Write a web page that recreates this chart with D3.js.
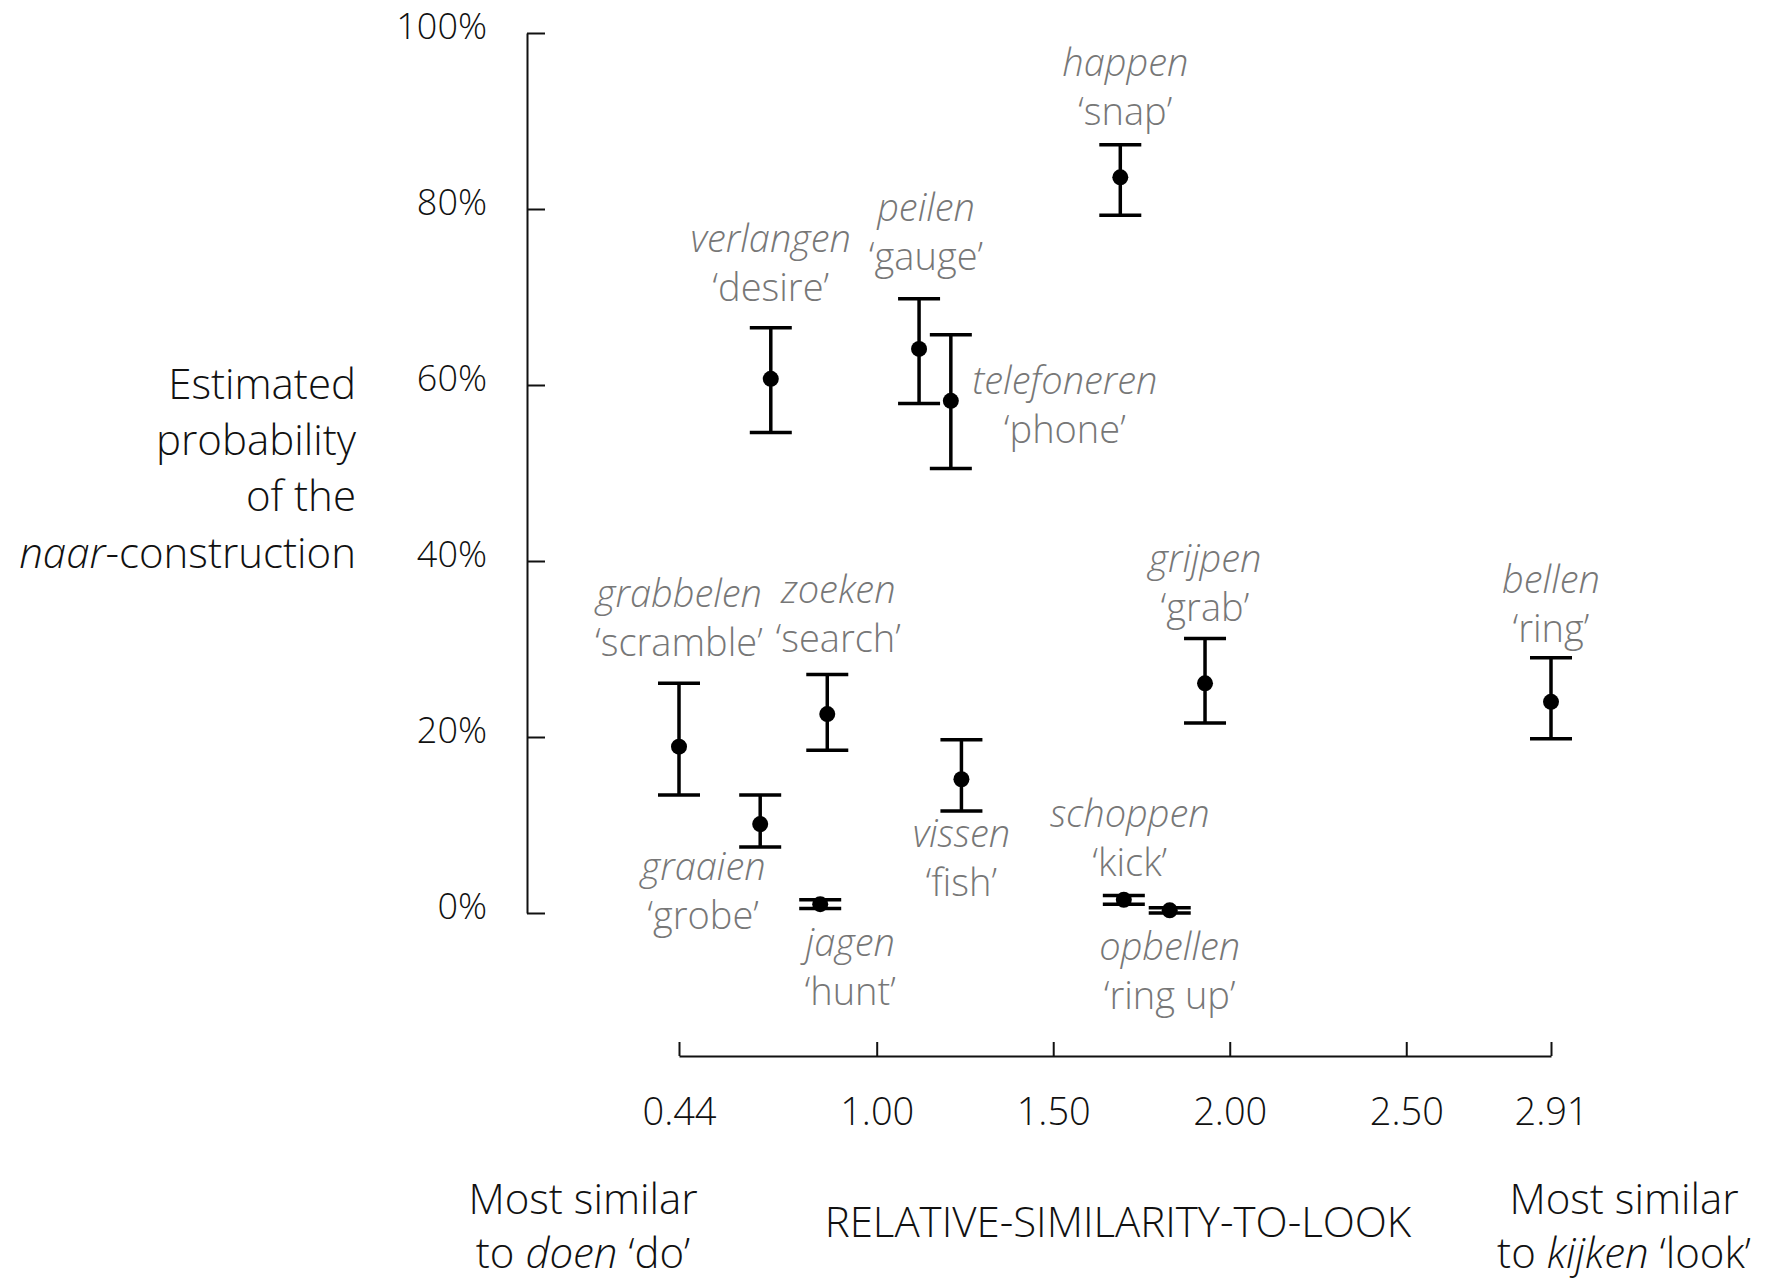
<!DOCTYPE html>
<html lang="en">
<head>
<meta charset="utf-8">
<title>Naar-construction by relative similarity to look</title>
<script src="https://d3js.org/d3.v7.min.js"></script>
<style>
  body { margin: 0; background: #fff; }
  text { font-family: "Open Sans", "Noto Sans", sans-serif; font-weight: 300; }
</style>
</head>
<body>
<div id="chart"></div>
<script>
// verbs, glosses and values
var verbs   = ["grabbelen", "graaien", "zoeken", "jagen", "verlangen", "peilen", "telefoneren",
               "vissen", "happen", "schoppen", "opbellen", "grijpen", "bellen"]
var glosses = ["scramble", "grobe", "search", "hunt", "desire", "gauge", "phone",
               "fish", "snap", "kick", "ring up", "grab", "ring"]
var similarity = [0.44, 0.67, 0.86, 0.84, 0.70, 1.12, 1.21, 1.24, 1.69, 1.70, 1.83, 1.93, 2.91]
var estimate   = [0.189, 0.101, 0.226, 0.010, 0.607, 0.641, 0.582, 0.152, 0.836, 0.015, 0.003, 0.261, 0.240]
var lower      = [0.134, 0.075, 0.185, 0.005, 0.546, 0.579, 0.505, 0.116, 0.793, 0.010, 0.000, 0.216, 0.198]
var upper      = [0.261, 0.134, 0.271, 0.015, 0.665, 0.698, 0.657, 0.197, 0.873, 0.020, 0.006, 0.312, 0.290]
var xTicks = [0.44, 1.00, 1.50, 2.00, 2.50, 2.91]
var yTicks = [0, 0.2, 0.4, 0.6, 0.8, 1.0]

// where each label sits relative to its point (px)
var labelOffsets = [[0,-153], [-57,43], [11,-124], [30,39], [0,-140], [7,-141], [114,-20],
                    [0,55], [5,-114], [6,-86], [0,37], [0,-124], [0,-122]]

var width = 1765, height = 1282

var svg = d3.select("#chart").append("svg")
    .attr("width", width)
    .attr("height", height)

var x = d3.scaleLinear().domain([0.44, 2.91]).range([679, 1551])
var y = d3.scaleLinear().domain([0, 1]).range([913, 33])

// y axis
var yAxis = svg.append("g")
    .attr("transform", "translate(527,0)")
    .call(d3.axisLeft(y).tickValues(yTicks).tickFormat(d3.format(".0%"))
      .tickSizeInner(-18).tickSizeOuter(0).tickPadding(40))
yAxis.select(".domain").attr("stroke", "#111").attr("stroke-width", 2)
yAxis.selectAll(".tick line").attr("stroke", "#111").attr("stroke-width", 2)
yAxis.selectAll(".tick text")
    .attr("fill", "#111")
    .style("font-size", "36px")
    .attr("y", -6)

// x axis
var xAxis = svg.append("g")
    .attr("transform", "translate(0,1056)")
    .call(d3.axisBottom(x).tickValues(xTicks).tickFormat(d3.format(".2f"))
      .tickSizeInner(-14).tickSizeOuter(0))
xAxis.select(".domain").attr("stroke", "#111").attr("stroke-width", 2)
xAxis.selectAll(".tick line").attr("stroke", "#111").attr("stroke-width", 2)
xAxis.selectAll(".tick text")
    .attr("fill", "#111")
    .style("font-size", "38px")
    .attr("y", 69).attr("dy", 0)

// axis titles
var yTitle = svg.append("text")
    .attr("text-anchor", "end")
    .attr("fill", "#111")
    .style("font-size", "42px")
yTitle.append("tspan").attr("x", 356).attr("y", 399).text("Estimated")
yTitle.append("tspan").attr("x", 356).attr("y", 455).text("probability")
yTitle.append("tspan").attr("x", 356).attr("y", 511).text("of the")
var l4 = yTitle.append("tspan").attr("x", 356).attr("y", 568)
l4.append("tspan").style("font-style", "italic").text("naar")
l4.append("tspan").text("-construction")

svg.append("text")
    .attr("x", 1118).attr("y", 1237)
    .attr("text-anchor", "middle")
    .attr("fill", "#111")
    .style("font-size", "42px")
    .text("RELATIVE-SIMILARITY-TO-LOOK")

var left = svg.append("text").attr("text-anchor", "middle").attr("fill", "#111").style("font-size", "42px")
left.append("tspan").attr("x", 583).attr("y", 1214).text("Most similar")
var ld = left.append("tspan").attr("x", 583).attr("y", 1268)
ld.append("tspan").text("to ")
ld.append("tspan").style("font-style", "italic").text("doen")
ld.append("tspan").text(" \u2018do\u2019")

var right = svg.append("text").attr("text-anchor", "middle").attr("fill", "#111").style("font-size", "42px")
right.append("tspan").attr("x", 1624).attr("y", 1214).text("Most similar")
var rd = right.append("tspan").attr("x", 1624).attr("y", 1268)
rd.append("tspan").text("to ")
rd.append("tspan").style("font-style", "italic").text("kijken")
rd.append("tspan").text(" \u2018look\u2019")

// error bars
var rows = verbs.map(function(v, i) {
  return {verb: v, gloss: glosses[i], x: similarity[i], est: estimate[i],
          lo: lower[i], hi: upper[i], off: labelOffsets[i]}
})

var bars = svg.selectAll(".bar").data(rows).enter().append("g").attr("class", "bar")
bars.append("line")
    .attr("x1", function(d){ return x(d.x) }).attr("x2", function(d){ return x(d.x) })
    .attr("y1", function(d){ return y(d.hi) }).attr("y2", function(d){ return y(d.lo) })
    .attr("stroke", "#000").attr("stroke-width", 3.5)
bars.append("line")
    .attr("x1", function(d){ return x(d.x) - 21 }).attr("x2", function(d){ return x(d.x) + 21 })
    .attr("y1", function(d){ return y(d.hi) }).attr("y2", function(d){ return y(d.hi) })
    .attr("stroke", "#000").attr("stroke-width", 3.5)
bars.append("line")
    .attr("x1", function(d){ return x(d.x) - 21 }).attr("x2", function(d){ return x(d.x) + 21 })
    .attr("y1", function(d){ return y(d.lo) }).attr("y2", function(d){ return y(d.lo) })
    .attr("stroke", "#000").attr("stroke-width", 3.5)
bars.append("circle")
    .attr("cx", function(d){ return x(d.x) })
    .attr("cy", function(d){ return y(d.est) })
    .attr("r", 8)
    .attr("fill", "#000")

// verb labels
var labels = svg.selectAll(".lab").data(rows).enter().append("text")
    .attr("class", "lab")
    .attr("text-anchor", "middle")
    .attr("fill", "#777")
    .style("font-size", "38px")
labels.append("tspan")
    .attr("x", function(d){ return x(d.x) + d.off[0] })
    .attr("y", function(d){ return y(d.est) + d.off[1] + 13 })
    .style("font-style", "italic")
    .text(function(d){ return d.verb })
labels.append("tspan")
    .attr("x", function(d){ return x(d.x) + d.off[0] })
    .attr("y", function(d){ return y(d.est) + d.off[1] + 62 })
    .text(function(d){ return "\u2018" + d.gloss + "\u2019" })
</script>
</body>
</html>
